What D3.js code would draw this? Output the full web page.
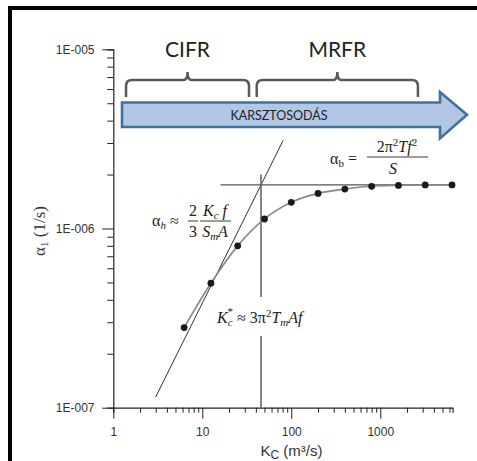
<!DOCTYPE html>
<html><head><meta charset="utf-8">
<script src="https://cdn.jsdelivr.net/npm/d3@7"></script>
<style>body{margin:0;background:#fff}svg{display:block}</style>
</head><body>
<script>
// ---- data ----
const kc = [6.25, 12.5, 25, 50, 100, 200, 400, 800, 1600, 3200, 6400];
const alpha = [2.8e-7, 4.95e-7, 8.0e-7, 1.13e-6, 1.40e-6, 1.57e-6, 1.66e-6, 1.72e-6, 1.74e-6, 1.75e-6, 1.75e-6];
const alphaB = 1.75e-6;          // horizontal asymptote
const kcStar = 45.7;             // intersection
const hydroRange = [3, 81];      // steep asymptote alpha = c*K
const horizRange = [16, 6400];
const vertRange = [1e-7, 2e-6];
const xMajor = [1, 10, 100, 1000];
const xTickLabels = ["1", "10", "100", "1000"];
const yMajor = [1e-7, 1e-6, 1e-5];
const yTickLabels = ["1E-007", "1E-006", "1E-005"];
const braces = [{label: "CIFR", k0: 1.39, k1: 33.5}, {label: "MRFR", k0: 40.9, k1: 2650}];
const arrowLabel = "KARSZTOSODÁS";

const W = 477, H = 461;
const svg = d3.select("body").append("svg").attr("width", W).attr("height", H);

const x = d3.scaleLog().domain([1, 6500]).range([113.3, 452.6]);
const y = d3.scaleLog().domain([1e-7, 1e-5]).range([407.7, 49.3]);

// frame (top + left)
svg.append("rect").attr("x", 8).attr("y", 6).attr("width", W - 8).attr("height", 4).attr("fill", "#000");
svg.append("rect").attr("x", 8).attr("y", 6).attr("width", 4).attr("height", H - 6).attr("fill", "#000");

// minor tick values
const xMinor = [];
for (const d of [1, 10, 100, 1000]) for (let m = 2; m <= 9; m++) if (d * m <= 6500) xMinor.push(d * m);
const yMinor = [];
for (const d of [1e-7, 1e-6]) for (let m = 2; m <= 9; m++) yMinor.push(d * m);

const axisCol = "#222";
// x axis
const gx = svg.append("g").attr("transform", "translate(0,407.7)");
gx.call(d3.axisBottom(x).tickValues(xMinor).tickSize(5).tickFormat(""));
gx.append("g").call(d3.axisBottom(x).tickValues(xMajor).tickSize(11).tickFormat((d, i) => xTickLabels[i]));
gx.selectAll("path.domain").attr("stroke", axisCol).attr("stroke-width", 1.2);
gx.selectAll(".tick line").attr("stroke", axisCol);
gx.selectAll("text").attr("font-family", "Liberation Sans, Arial, sans-serif").attr("font-size", 12).attr("fill", "#333").attr("dy", "1.2em");
gx.selectAll("g > g > path.domain").remove();

// y axis
const gy = svg.append("g").attr("transform", "translate(113.3,0)");
gy.call(d3.axisLeft(y).tickValues(yMinor).tickSize(6).tickFormat(""));
gy.append("g").call(d3.axisLeft(y).tickValues(yMajor).tickSize(11).tickFormat((d, i) => yTickLabels[i]));
gy.selectAll("path.domain").attr("stroke", axisCol).attr("stroke-width", 1.2);
gy.selectAll(".tick line").attr("stroke", axisCol);
gy.selectAll("text").attr("font-family", "Liberation Sans, Arial, sans-serif").attr("font-size", 12).attr("fill", "#333").attr("dx", "-0.4em");
gy.selectAll("g > g > path.domain").remove();

// axis titles
const xt = svg.append("text").attr("x", 260.5).attr("y", 456).attr("font-family", "Liberation Sans, Arial, sans-serif").attr("font-size", 15).attr("fill", "#333");
xt.append("tspan").text("K");
xt.append("tspan").attr("font-size", 12).attr("dy", 3).text("C");
xt.append("tspan").attr("dy", -3).text(" (m³/s)");

const yt = svg.append("text").attr("transform", "translate(45,231) rotate(-90)").attr("text-anchor", "middle")
  .attr("font-family", "Liberation Serif, Times New Roman, serif").attr("font-size", 17).attr("fill", "#333");
yt.append("tspan").text("α");
yt.append("tspan").attr("font-size", 11).attr("dy", 3).text("1");
yt.append("tspan").attr("dy", -3).text(" (1/s)");

// asymptote lines
const c = alphaB / kcStar;
svg.append("line").attr("x1", x(hydroRange[0])).attr("y1", y(c * hydroRange[0])).attr("x2", x(hydroRange[1])).attr("y2", y(c * hydroRange[1]))
  .attr("stroke", "#333").attr("stroke-width", 1);
svg.append("line").attr("x1", x(horizRange[0])).attr("y1", y(alphaB)).attr("x2", x(horizRange[1])).attr("y2", y(alphaB))
  .attr("stroke", "#555").attr("stroke-width", 1.2);
svg.append("line").attr("x1", x(kcStar)).attr("y1", y(vertRange[1])).attr("x2", x(kcStar)).attr("y2", y(vertRange[0]))
  .attr("stroke", "#666").attr("stroke-width", 1.6);

// data curve
const pts = kc.map((k, i) => [x(k), y(alpha[i])]);
svg.append("path").attr("d", d3.line().curve(d3.curveMonotoneX)(pts)).attr("fill", "none").attr("stroke", "#888").attr("stroke-width", 1.6);
svg.selectAll("circle.pt").data(pts).join("circle").attr("class", "pt").attr("cx", d => d[0]).attr("cy", d => d[1]).attr("r", 3.4).attr("fill", "#1a1a1a");

// arrow
const ax0 = 122, ax1 = 440, axTip = 467, ayT = 102.5, ayB = 127, ahT = 92, ahB = 138.5;
const ayM = (ayT + ayB) / 2;
svg.append("path").attr("d", `M${ax0},${ayT}H${ax1}V${ahT}L${axTip},${ayM}L${ax1},${ahB}V${ayB}H${ax0}Z`)
  .attr("fill", "#b2c7e5").attr("stroke", "#41719c").attr("stroke-width", 2.6).attr("stroke-linejoin", "miter");
svg.append("text").attr("x", 279).attr("y", 119.5).attr("text-anchor", "middle").attr("font-family", "Lato, Open Sans, sans-serif")
  .attr("font-size", 12.5).attr("fill", "#222").text(arrowLabel);

// braces
braces.forEach(b => {
  const x1 = x(b.k0), x2 = x(b.k1), cx = (x1 + x2) / 2, hy = 80, by = 97, r = 6;
  const d = `M${x1},${by}V${hy + r}Q${x1},${hy} ${x1 + r},${hy}H${cx - 4}Q${cx},${hy} ${cx},${hy - 8}Q${cx},${hy} ${cx + 4},${hy}H${x2 - r}Q${x2},${hy} ${x2},${hy + r}V${by}`;
  svg.append("path").attr("d", d).attr("fill", "none").attr("stroke", "#595959").attr("stroke-width", 2.5);
  svg.append("text").attr("x", cx).attr("y", 57).attr("text-anchor", "middle").attr("font-family", "Lato, Open Sans, sans-serif")
    .attr("font-size", 21).attr("fill", "#222").text(b.label);
});

// formulas
const serif = "Liberation Serif, Times New Roman, serif";
const fs = 16;
function txt(xx, yy, anchor) {
  return svg.append("text").attr("x", xx).attr("y", yy).attr("text-anchor", anchor || "start").attr("font-family", serif).attr("font-size", fs).attr("fill", "#222");
}
// alpha_b
let t = txt(330, 164); t.append("tspan").text("α"); t.append("tspan").attr("font-size", 11).attr("dy", 3).text("b"); t.append("tspan").attr("dy", -3).text(" =");
t = txt(397, 152, "middle"); t.append("tspan").text("2π"); t.append("tspan").attr("font-size", 11).attr("dy", -6).text("2");
t.append("tspan").attr("dy", 6).attr("font-style", "italic").text("Tf"); t.append("tspan").attr("font-size", 11).attr("dy", -6).text("2");
svg.append("line").attr("x1", 367).attr("x2", 428).attr("y1", 157).attr("y2", 157).attr("stroke", "#222").attr("stroke-width", 0.9);
t = txt(393, 174, "middle"); t.append("tspan").attr("font-style", "italic").text("S");

// alpha_h
t = txt(152, 226); t.append("tspan").text("α"); t.append("tspan").attr("font-size", 11).attr("dy", 3).attr("font-style", "italic").text("h"); t.append("tspan").attr("dy", -3).text(" ≈");
t = txt(193, 216, "middle"); t.text("2");
t = txt(193, 237, "middle"); t.text("3");
svg.append("line").attr("x1", 188).attr("x2", 198).attr("y1", 221).attr("y2", 221).attr("stroke", "#222").attr("stroke-width", 0.9);
t = txt(215, 216, "middle"); t.append("tspan").attr("font-style", "italic").text("K"); t.append("tspan").attr("font-size", 11).attr("dy", 3).attr("font-style", "italic").text("c");
t.append("tspan").attr("dy", -3).attr("font-style", "italic").text(" f");
t = txt(215, 237, "middle"); t.append("tspan").attr("font-style", "italic").text("S"); t.append("tspan").attr("font-size", 11).attr("dy", 3).attr("font-style", "italic").text("m");
t.append("tspan").attr("dy", -3).attr("font-style", "italic").text("A");
svg.append("line").attr("x1", 200).attr("x2", 231).attr("y1", 221).attr("y2", 221).attr("stroke", "#222").attr("stroke-width", 0.9);

// K_c*
svg.append("rect").attr("x", 255).attr("y", 297).attr("width", 12).attr("height", 39).attr("fill", "#fff");
t = txt(217, 323); t.append("tspan").attr("font-style", "italic").text("K"); t.append("tspan").attr("font-size", 11).attr("dy", 3).attr("font-style", "italic").text("c");
t.append("tspan").attr("font-size", 11).attr("dy", -11).attr("dx", -5).text("*");
t.append("tspan").attr("dy", 8).text(" ≈ 3π"); t.append("tspan").attr("font-size", 11).attr("dy", -6).text("2");
t.append("tspan").attr("dy", 6).attr("font-style", "italic").text("T"); t.append("tspan").attr("font-size", 11).attr("dy", 3).attr("font-style", "italic").text("m");
t.append("tspan").attr("dy", -3).attr("font-style", "italic").text("Af");
</script>
</body></html>
